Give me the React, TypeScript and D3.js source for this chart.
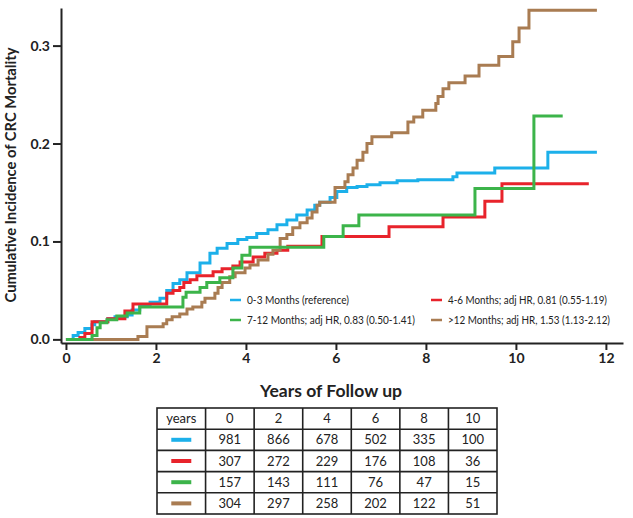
import React, { useRef, useEffect } from "react";
import * as d3 from "d3";

// legend labels + colours, same order everywhere
const groupLabels = [
  "0-3 Months (reference)",
  "4-6 Months; adj HR, 0.81 (0.55-1.19)",
  "7-12 Months; adj HR, 0.83 (0.50-1.41)",
  ">12 Months; adj HR, 1.53 (1.13-2.12)",
];
const groupColors = ["#1cb0ea", "#e8232b", "#3cb44a", "#a97c52"];

// step curves (years, cumulative incidence)
const blueTimes = [0, 0.16, 0.27, 0.42, 0.58, 0.64, 0.93, 1.09, 1.36, 1.47, 1.64, 1.87, 2.09, 2.24, 2.38, 2.53, 2.69, 2.98, 3.2, 3.36, 3.58, 3.82, 4.02, 4.24, 4.49, 4.69, 4.91, 5.13, 5.36, 5.53, 5.64, 5.87, 6.02, 6.24, 6.47, 6.69, 6.98, 7.36, 7.82, 8.6, 8.69, 9.53, 10.71, 11.8];
const blueValues = [0, 0.004, 0.007, 0.011, 0.015, 0.018, 0.021, 0.023, 0.025, 0.03, 0.035, 0.038, 0.042, 0.05, 0.057, 0.061, 0.068, 0.078, 0.088, 0.093, 0.098, 0.102, 0.104, 0.108, 0.112, 0.117, 0.122, 0.127, 0.132, 0.137, 0.14, 0.145, 0.151, 0.155, 0.156, 0.158, 0.16, 0.162, 0.163, 0.166, 0.17, 0.175, 0.191, 0.191];

const redTimes = [0, 0.31, 0.42, 0.58, 0.93, 1.31, 1.49, 2.24, 2.38, 2.53, 2.62, 2.76, 2.91, 3.27, 3.47, 3.71, 3.87, 4.16, 4.42, 4.69, 4.93, 5.69, 7.18, 8.38, 9.31, 9.69, 11.62];
const redValues = [0, 0.002, 0.006, 0.018, 0.021, 0.029, 0.036, 0.047, 0.05, 0.053, 0.058, 0.061, 0.065, 0.069, 0.072, 0.075, 0.079, 0.084, 0.088, 0.091, 0.095, 0.105, 0.115, 0.125, 0.141, 0.159, 0.159];

const greenTimes = [0, 0.58, 0.69, 0.76, 0.91, 1.13, 1.36, 1.64, 2.6, 2.67, 2.98, 3.13, 3.42, 3.71, 3.91, 4.09, 5.73, 6.16, 6.51, 9.09, 10.4, 11.04];
const greenValues = [0, 0.004, 0.012, 0.017, 0.02, 0.024, 0.027, 0.033, 0.043, 0.048, 0.053, 0.058, 0.063, 0.073, 0.086, 0.094, 0.105, 0.116, 0.127, 0.154, 0.228, 0.228];

const brownTimes = [0, 1.6, 1.8, 2.16, 2.24, 2.36, 2.53, 2.69, 2.82, 3.02, 3.09, 3.31, 3.38, 3.47, 3.64, 3.76, 3.98, 4.09, 4.27, 4.49, 4.6, 4.76, 4.91, 5.04, 5.2, 5.36, 5.47, 5.58, 5.64, 5.98, 6.2, 6.27, 6.38, 6.47, 6.6, 6.69, 6.8, 7.24, 7.6, 7.73, 7.93, 8.22, 8.27, 8.38, 8.51, 8.87, 9.18, 9.62, 9.93, 10.07, 10.29, 11.8];
const brownValues = [0, 0.003, 0.013, 0.016, 0.02, 0.023, 0.026, 0.031, 0.033, 0.038, 0.042, 0.047, 0.053, 0.058, 0.064, 0.068, 0.073, 0.076, 0.081, 0.087, 0.091, 0.103, 0.107, 0.114, 0.119, 0.124, 0.13, 0.137, 0.14, 0.155, 0.161, 0.168, 0.175, 0.183, 0.191, 0.2, 0.207, 0.211, 0.222, 0.227, 0.234, 0.241, 0.248, 0.256, 0.262, 0.269, 0.28, 0.289, 0.304, 0.318, 0.336, 0.336];

// numbers at risk table
const riskYears = [0, 2, 4, 6, 8, 10];
const riskBlue = [981, 866, 678, 502, 335, 100];
const riskRed = [307, 272, 229, 176, 108, 36];
const riskGreen = [157, 143, 111, 76, 47, 15];
const riskBrown = [304, 297, 258, 202, 122, 51];

const xTicks = [0, 2, 4, 6, 8, 10, 12];
const yTicks = [0, 0.1, 0.2, 0.3];

const FONT = "Lato, 'Open Sans', sans-serif";

export default function App() {
  const ref = useRef<SVGSVGElement | null>(null);

  useEffect(() => {
    const svg = d3.select(ref.current);
    svg.selectAll("*").remove();

    const x = d3.scaleLinear().domain([-0.11, 12.38]).range([61, 623]);
    const y = d3.scaleLinear().domain([-0.0037, 0.3384]).range([343, 8]);

    const series = [
      { t: blueTimes, v: blueValues },
      { t: redTimes, v: redValues },
      { t: greenTimes, v: greenValues },
      { t: brownTimes, v: brownValues },
    ];

    const line = d3
      .line<[number, number]>()
      .x((d) => x(d[0]))
      .y((d) => y(d[1]))
      .curve(d3.curveStepAfter);

    // draw order: blue, red, brown, green on top
    [0, 1, 3, 2].forEach((i) => {
      const pts = series[i].t.map((t, k) => [t, series[i].v[k]] as [number, number]);
      svg
        .append("path")
        .attr("d", line(pts))
        .attr("fill", "none")
        .attr("stroke", groupColors[i])
        .attr("stroke-width", 3);
    });

    // axes
    const yAxis = svg
      .append("g")
      .attr("transform", "translate(61,0)")
      .call(
        d3
          .axisLeft(y)
          .tickValues(yTicks)
          .tickFormat(d3.format(".1f"))
          .tickSize(8)
          .tickSizeOuter(0)
      );
    const xAxis = svg
      .append("g")
      .attr("transform", "translate(0,343)")
      .call(
        d3
          .axisBottom(x)
          .tickValues(xTicks)
          .tickFormat(d3.format("d"))
          .tickSize(7)
          .tickSizeOuter(0)
      );
    [yAxis, xAxis].forEach((g) => {
      g.select(".domain").attr("stroke", "#222").attr("stroke-width", 2);
      g.selectAll(".tick line").attr("stroke", "#222").attr("stroke-width", 2);
      g.selectAll(".tick text")
        .attr("font-family", FONT)
        .attr("font-size", 14)
        .attr("font-weight", "bold")
        .attr("fill", "#222");
    });
    yAxis.selectAll(".tick text").attr("x", -11);
    xAxis.selectAll(".tick text").attr("y", 10);

    svg
      .append("text")
      .attr("transform", "translate(15.5,175) rotate(-90)")
      .attr("text-anchor", "middle")
      .attr("font-family", FONT)
      .attr("font-size", 14.5)
      .attr("font-weight", "bold")
      .attr("fill", "#222")
      .attr("textLength", 255)
      .attr("lengthAdjust", "spacingAndGlyphs")
      .text("Cumulative Incidence of CRC Mortality");

    // legend, two rows of two
    const legendX = [230, 431];
    const legendY = [300, 320];
    const legendW = [102, 159, 168, 162];
    groupLabels.forEach((label, i) => {
      const lx = legendX[i % 2];
      const ly = legendY[Math.floor(i / 2)];
      svg
        .append("line")
        .attr("x1", lx)
        .attr("x2", lx + 11)
        .attr("y1", ly)
        .attr("y2", ly)
        .attr("stroke", groupColors[i])
        .attr("stroke-width", 2.5);
      svg
        .append("text")
        .attr("x", lx + 17)
        .attr("y", ly + 4)
        .attr("font-family", FONT)
        .attr("font-size", 10.5)
        .attr("fill", "#222")
        .attr("textLength", legendW[i])
        .attr("lengthAdjust", "spacingAndGlyphs")
        .text(label);
    });

    svg
      .append("text")
      .attr("x", 331)
      .attr("y", 397)
      .attr("text-anchor", "middle")
      .attr("font-family", FONT)
      .attr("font-size", 17)
      .attr("font-weight", "bold")
      .attr("fill", "#222")
      .attr("textLength", 142)
      .attr("lengthAdjust", "spacingAndGlyphs")
      .text("Years of Follow up");

    // at-risk table
    const cols = ["years", ...riskYears.map(String)];
    const colX = d3.scaleBand<string>().domain(cols).range([157, 497]);
    const rowY = d3.scaleBand<string>().domain(["head", "0", "1", "2", "3"]).range([408, 514]);
    const table = svg.append("g");
    const rows = [riskBlue, riskRed, riskGreen, riskBrown];

    table
      .append("rect")
      .attr("x", 157)
      .attr("y", 408)
      .attr("width", 340)
      .attr("height", 106)
      .attr("fill", "none")
      .attr("stroke", "#222")
      .attr("stroke-width", 1.6);
    cols.slice(1).forEach((c) => {
      table
        .append("line")
        .attr("x1", colX(c)!)
        .attr("x2", colX(c)!)
        .attr("y1", 408)
        .attr("y2", 514)
        .attr("stroke", "#222")
        .attr("stroke-width", 1.6);
    });
    ["0", "1", "2", "3"].forEach((r) => {
      table
        .append("line")
        .attr("x1", 157)
        .attr("x2", 497)
        .attr("y1", rowY(r)!)
        .attr("y2", rowY(r)!)
        .attr("stroke", "#222")
        .attr("stroke-width", 1.6);
    });

    const cellText = (cx: number, cy: number, s: string) =>
      table
        .append("text")
        .attr("x", cx)
        .attr("y", cy + 4.5)
        .attr("text-anchor", "middle")
        .attr("font-family", FONT)
        .attr("font-size", 13)
        .attr("fill", "#222")
        .text(s);

    const bw = colX.bandwidth();
    const bh = rowY.bandwidth();
    cols.forEach((c) => cellText(colX(c)! + bw / 2, rowY("head")! + bh / 2, c));
    rows.forEach((vals, i) => {
      const cy = rowY(String(i))! + bh / 2;
      table
        .append("line")
        .attr("x1", colX("years")! + bw / 2 - 10)
        .attr("x2", colX("years")! + bw / 2 + 10)
        .attr("y1", cy)
        .attr("y2", cy)
        .attr("stroke", groupColors[i])
        .attr("stroke-width", 4);
      vals.forEach((v, k) => cellText(colX(String(riskYears[k]))! + bw / 2, cy, String(v)));
    });
  }, []);

  return (
    <svg
      ref={ref}
      width={633}
      height={518}
      style={{ position: "absolute", left: 0, top: 0, background: "#fff" }}
    />
  );
}
